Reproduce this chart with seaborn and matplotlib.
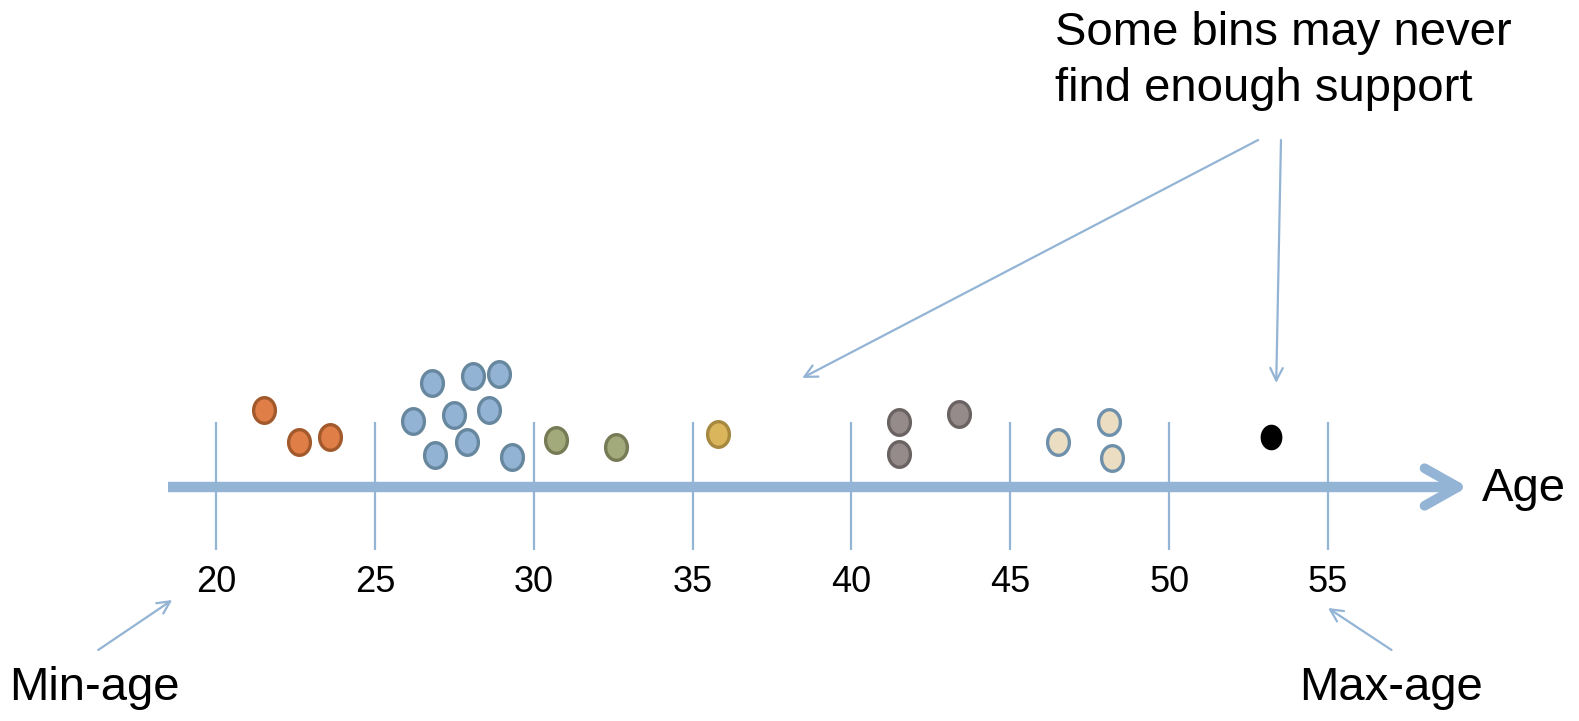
import numpy as np
import pandas as pd
import matplotlib.pyplot as plt
import seaborn as sns
from matplotlib.path import Path

# ages of the points
ages = [21.5, 22.6, 23.6,
        26.8, 28.1, 28.9, 26.2, 27.5, 28.6, 26.9, 27.9, 29.3,
        30.7, 32.6,
        35.8,
        41.5, 41.5, 43.4,
        46.5, 48.1, 48.2,
        53.2]
# vertical stacking of the dots above the axis
heights = [31.1, 27.9, 28.4,
           33.8, 34.5, 34.7, 30.0, 30.6, 31.1, 26.6, 27.9, 26.4,
           28.1, 27.4,
           28.7,
           29.9, 26.7, 30.7,
           27.9, 29.9, 26.3,
           28.4]
groups = ["a"] * 3 + ["b"] * 9 + ["c"] * 2 + ["d"] + ["e"] * 3 + ["f"] * 3 + ["g"]

fill_colors = {"a": "#E07E48", "b": "#93B3D5", "c": "#A2A97B", "d": "#DAB55C",
               "e": "#968B8B", "f": "#EBDDC2", "g": "#000000"}
edge_colors = {"a": "#A2592C", "b": "#67879F", "c": "#767A55", "d": "#A6883E",
               "e": "#6B6363", "f": "#6F90AA", "g": "#000000"}

tick_values = [20, 25, 30, 35, 40, 45, 50, 55]
axis_start, axis_end = 18.5, 59.4

df = pd.DataFrame({"age": ages, "height": heights, "group": groups})

sns.set_style("white")
plt.rcParams["font.family"] = ["Liberation Sans", "DejaVu Sans"]
plt.rcParams["text.color"] = "black"

fig = plt.figure(figsize=(15.79, 7.21), dpi=100)
ax = fig.add_axes([0, 0, 1, 1])
ax.set_xlim(13.2, 62.9)
ax.set_ylim(0, 72.1)
ax.axis("off")

line_blue = "#93B4D4"

# vertical bin separators
ax.vlines(tick_values, 17.1, 29.9, color=line_blue, lw=1.6, zorder=1)
for t in tick_values:
    ax.text(t, 13.9, str(t), fontsize=26, ha="center", va="center")

# main axis arrow
ax.plot([axis_start, axis_end - 0.3], [23.4, 23.4], color=line_blue, lw=7.5,
        solid_capstyle="butt", zorder=2)
ax.annotate("", xy=(axis_end, 23.4), xytext=(axis_end - 1.5, 23.4),
            arrowprops=dict(arrowstyle="->,head_length=2.4,head_width=1.35",
                            color=line_blue, lw=7, shrinkA=0, shrinkB=0,
                            capstyle="round", joinstyle="round"), zorder=2)
ax.text(59.85, 23.2, "Age", fontsize=34, ha="left", va="center")

# ellipse marker
theta = np.linspace(0, 2 * np.pi, 60)
ellipse = Path(np.column_stack([0.85 * np.cos(theta), np.sin(theta)]), closed=True)

for g, sub in df.groupby("group"):
    sns.scatterplot(data=sub, x="age", y="height", ax=ax, marker=ellipse, s=340,
                    color=fill_colors[g], edgecolor=edge_colors[g],
                    linewidth=0 if g == "g" else 2.4, zorder=3, legend=False)

# annotations
arrow_kw = dict(arrowstyle="->,head_length=0.9,head_width=0.45", color=line_blue, lw=1.6,
                shrinkA=0, shrinkB=0)
ax.annotate("", xy=(38.45, 34.3), xytext=(52.8, 58.1), arrowprops=arrow_kw)
ax.annotate("", xy=(53.37, 33.8), xytext=(53.52, 58.1), arrowprops=arrow_kw)
ax.annotate("", xy=(18.62, 12.1), xytext=(16.29, 7.1), arrowprops=arrow_kw)
ax.annotate("", xy=(55.0, 11.3), xytext=(57.0, 7.1), arrowprops=arrow_kw)

ax.text(46.4, 66.0, "Some bins may never\nfind enough support", fontsize=34,
        ha="left", va="center", linespacing=1.35)
ax.text(13.5, 3.3, "Min-age", fontsize=34, ha="left", va="center")
ax.text(54.1, 3.3, "Max-age", fontsize=34, ha="left", va="center")

fig.savefig("out.png", dpi=100)
